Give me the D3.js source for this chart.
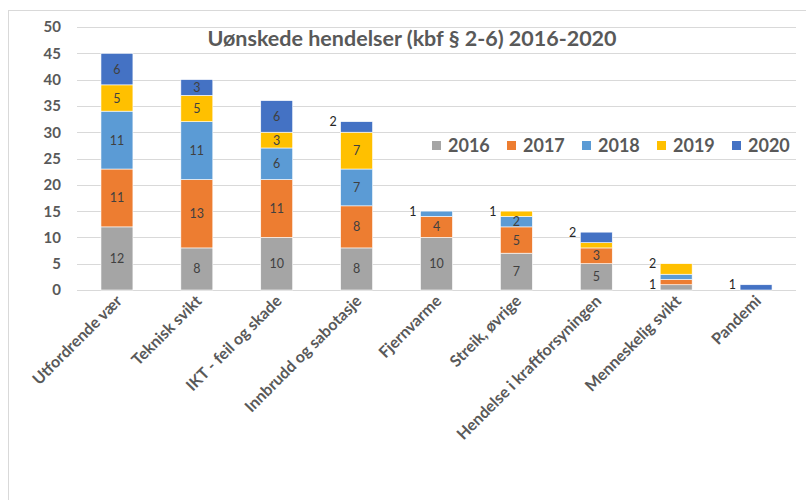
<!DOCTYPE html>
<html>
<head>
<meta charset="utf-8">
<script src="https://cdn.jsdelivr.net/npm/d3@7"></script>
<style>
  body { margin: 0; background: #fff; }
  #chart { width: 806px; height: 500px; }
  text { font-family: Lato, "Open Sans", sans-serif; }
</style>
</head>
<body>
<div id="chart"></div>
<script>
const categories = ["Utfordrende vær", "Teknisk svikt", "IKT - feil og skade", "Innbrudd og sabotasje",
  "Fjernvarme", "Streik, øvrige", "Hendelse i kraftforsyningen", "Menneskelig svikt", "Pandemi"];
const years = ["2016", "2017", "2018", "2019", "2020"];
const v2016 = [12, 8, 10, 8, 10, 7, 5, 1, 0];
const v2017 = [11, 13, 11, 8, 4, 5, 3, 1, 0];
const v2018 = [11, 11, 6, 7, 1, 2, 0, 1, 0];
const v2019 = [5, 5, 3, 7, 0, 1, 1, 2, 0];
const v2020 = [6, 3, 6, 2, 0, 0, 2, 0, 1];
const yTicks = [0, 5, 10, 15, 20, 25, 30, 35, 40, 45, 50];
// labels that sit left of the bar instead of inside it
const outsideLabels = [["Innbrudd og sabotasje", "2020"], ["Fjernvarme", "2018"], ["Streik, øvrige", "2019"],
  ["Hendelse i kraftforsyningen", "2020"], ["Menneskelig svikt", "2016"], ["Menneskelig svikt", "2019"],
  ["Pandemi", "2020"]];

const colors = { "2016": "#A5A5A5", "2017": "#ED7D31", "2018": "#5B9BD5", "2019": "#FFC000", "2020": "#4472C4" };
const seriesVals = { "2016": v2016, "2017": v2017, "2018": v2018, "2019": v2019, "2020": v2020 };

const width = 806, height = 500;
const table = categories.map((c, i) => {
  const row = { cat: c };
  years.forEach(y => row[y] = seriesVals[y][i]);
  return row;
});

const svg = d3.select("#chart").append("svg")
  .attr("width", width).attr("height", height);

// chart border
svg.append("rect")
  .attr("x", 8.5).attr("y", 10.5)
  .attr("width", 820).attr("height", 600)
  .attr("fill", "none").attr("stroke", "#D9D9D9");

const x = d3.scaleBand().domain(categories).range([77, 796]).paddingInner(0.6).paddingOuter(0.3);
const y = d3.scaleLinear().domain([0, 50]).range([290, 27]);

// grid
svg.append("g").selectAll("line").data(yTicks).enter().append("line")
  .attr("x1", 77).attr("x2", 796)
  .attr("y1", d => Math.round(y(d)) + 0.5).attr("y2", d => Math.round(y(d)) + 0.5)
  .attr("stroke", "#D9D9D9").attr("stroke-width", 1);

svg.append("g").selectAll("text").data(yTicks).enter().append("text")
  .attr("x", 61).attr("y", d => y(d)).attr("dy", "0.36em")
  .attr("text-anchor", "end")
  .attr("font-size", 15).attr("font-weight", "bold").attr("fill", "#595959")
  .text(d => d);

const stack = d3.stack().keys(years)(table);

const layer = svg.append("g").selectAll("g").data(stack).enter().append("g")
  .attr("fill", d => colors[d.key]);

layer.selectAll("rect").data(d => d.map(p => ({ p: p, key: d.key })))
  .enter().append("rect")
  .attr("x", d => x(d.p.data.cat))
  .attr("width", x.bandwidth())
  .attr("y", d => y(d.p[1]))
  .attr("height", d => y(d.p[0]) - y(d.p[1]))
  .attr("stroke", "#fff").attr("stroke-width", d => d.p[1] > d.p[0] ? 0.6 : 0);

const isOutside = (cat, key) => outsideLabels.some(o => o[0] === cat && o[1] === key);

const labels = [];
stack.forEach(s => s.forEach(p => {
  const v = p[1] - p[0];
  const cat = p.data.cat;
  if (isOutside(cat, s.key)) labels.push({ cat, v, y0: p[0], y1: p[1], out: true });
  else if (v >= 2) labels.push({ cat, v, y0: p[0], y1: p[1], out: false });
}));

svg.append("g").selectAll("text").data(labels).enter().append("text")
  .attr("x", d => d.out ? x(d.cat) - 4 : x(d.cat) + x.bandwidth() / 2)
  .attr("y", d => d.out ? y(d.y1) : y((d.y0 + d.y1) / 2))
  .attr("dy", "0.36em")
  .attr("text-anchor", d => d.out ? "end" : "middle")
  .attr("font-size", 12.5)
  .attr("fill", d => d.out ? "#262626" : "#404040")
  .text(d => d.v);

// category labels
svg.append("g").selectAll("text").data(categories).enter().append("text")
  .attr("transform", d => `translate(${x(d) + x.bandwidth() / 2 + 6},302) rotate(-45)`)
  .attr("text-anchor", "end")
  .attr("font-size", 16).attr("font-weight", "bold").attr("fill", "#595959")
  .text(d => d);

// title
svg.append("text")
  .attr("x", 412).attr("y", 46)
  .attr("text-anchor", "middle")
  .attr("font-size", 21.5).attr("font-weight", "bold").attr("fill", "#595959")
  .text("Uønskede hendelser (kbf § 2-6) 2016-2020");

// legend
const legend = svg.append("g").selectAll("g").data(years).enter().append("g")
  .attr("transform", (d, i) => `translate(${432 + i * 75},141)`);
legend.append("rect").attr("width", 9).attr("height", 9).attr("fill", d => colors[d]);
legend.append("text").attr("x", 16).attr("y", 4.5).attr("dy", "0.36em")
  .attr("font-size", 18).attr("font-weight", "bold").attr("fill", "#595959")
  .text(d => d);
</script>
</body>
</html>
